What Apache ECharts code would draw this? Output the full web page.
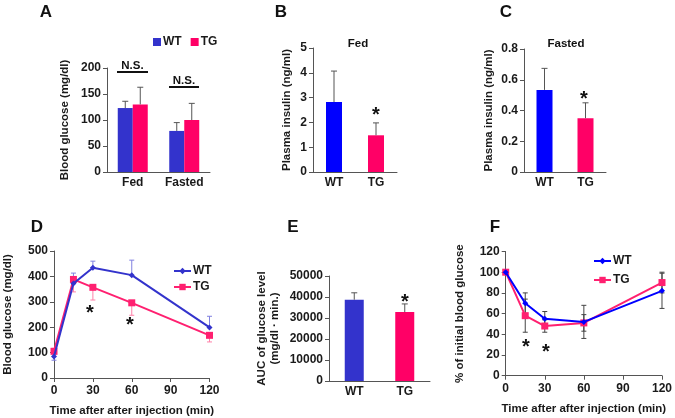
<!DOCTYPE html>
<html><head><meta charset="utf-8">
<script src="https://cdn.jsdelivr.net/npm/echarts@6/dist/echarts.min.js"></script>
<style>html,body{margin:0;padding:0;background:#fff}#c{width:675px;height:418px}</style>
</head><body><div id="c"></div>
<script>
// ---- data ----
const A_cats = ['Fed', 'Fasted'];
const A_wt = [123, 79];
const A_wtSd = [13, 16];
const A_tg = [130, 100];
const A_tgSd = [33, 32];
const A_yTicks = [0, 50, 100, 150, 200];

const B_cats = ['WT', 'TG'];
const B_vals = [2.82, 1.48];
const B_sd = [1.25, 0.5];

const C_cats = ['WT', 'TG'];
const C_vals = [0.534, 0.35];
const C_sd = [0.14, 0.10];

const D_time = [0, 15, 30, 60, 120];
const D_wt = [85, 372, 434, 405, 199];
const D_wtUp = [0, 41, 26, 59, 44];
const D_wtDown = [15, 0, 0, 0, 0];
const D_tg = [105, 388, 357, 296, 168];
const D_tgUp = [12, 0, 0, 0, 0];
const D_tgDown = [0, 49, 50, 49, 26];

const E_cats = ['WT', 'TG'];
const E_vals = [38700, 32800];
const E_sd = [3300, 3900];

const F_time = [0, 15, 30, 60, 120];
const F_wt = [100, 70, 55, 52, 82];
const F_wtSd = [0, 10, 7, 16, 17];
const F_tg = [100, 58, 48, 51, 90];
const F_tgSd = [0, 16, 6, 8, 10];

// ---- style ----
const BLUE_A = '#3333CC', BLUE_B = '#0000FF', PINK = '#FF0066', PINK_L = '#FF2070';
const FONT = 'Liberation Sans, Arial, sans-serif';
const lab = { fontFamily: FONT, fontWeight: 'bold', fontSize: 12, color: '#1a1a1a' };
const axisLine = { show: true, lineStyle: { color: '#555', width: 1 } };

function errRender(offset, capW, color, lw) {
  return function (params, api) {
    const x = api.value(0), y = api.value(1), lo = api.value(2), hi = api.value(3);
    const p1 = api.coord([x, lo]), p2 = api.coord([x, hi]);
    const cx = p1[0] + offset;
    const ch = [];
    if (hi > lo) ch.push({ type: 'line', shape: { x1: cx, y1: p1[1], x2: cx, y2: p2[1] }, style: { stroke: color, lineWidth: lw } });
    if (hi > y) ch.push({ type: 'line', shape: { x1: cx - capW / 2, y1: p2[1], x2: cx + capW / 2, y2: p2[1] }, style: { stroke: color, lineWidth: lw } });
    if (lo < y) ch.push({ type: 'line', shape: { x1: cx - capW / 2, y1: p1[1], x2: cx + capW / 2, y2: p1[1] }, style: { stroke: color, lineWidth: lw } });
    return { type: 'group', children: ch };
  };
}
function errCat(vals, sd) { return vals.map((v, i) => [i, v, v, v + sd[i]]); }
function errXY(xs, vals, up, down) { return xs.map((x, i) => [x, vals[i], vals[i] - down[i], vals[i] + up[i]]); }

function valY(gi, min, max, interval, name, gap, extra) {
  return Object.assign({
    type: 'value', gridIndex: gi, min: min, max: max, interval: interval,
    axisLine: axisLine, axisTick: { show: true, length: 4, lineStyle: { color: '#555' } },
    splitLine: { show: false }, axisLabel: Object.assign({ margin: 6, formatter: v => String(v) }, lab),
    name: name, nameLocation: 'middle', nameGap: gap, nameRotate: 90,
    nameTextStyle: { fontFamily: FONT, fontWeight: 'bold', fontSize: 11.5, color: '#1a1a1a', lineHeight: 13 }
  }, extra || {});
}
function catX(gi, cats) {
  return { type: 'category', gridIndex: gi, data: cats, axisLine: axisLine, axisTick: { show: false },
    axisLabel: Object.assign({ margin: 5 }, lab) };
}
function timeX(gi, name) {
  return { type: 'value', gridIndex: gi, min: 0, max: 120, interval: 30, axisLine: axisLine,
    axisTick: { show: true, length: 4, lineStyle: { color: '#555' } }, splitLine: { show: false },
    axisLabel: Object.assign({ margin: 7 }, lab),
    name: name, nameLocation: 'middle', nameGap: 27,
    nameTextStyle: { fontFamily: FONT, fontWeight: 'bold', fontSize: 11.5, color: '#1a1a1a' } };
}
function txt(x, y, s, size, extra) {
  return Object.assign({ type: 'text', x: x, y: y, style: { text: s, fontFamily: FONT, fontWeight: 'bold', fontSize: size, fill: '#111', align: 'center', verticalAlign: 'middle' } }, extra || {});
}
function star(x, y) { return txt(x, y + 5, '*', 20); }

const chart = echarts.init(document.getElementById('c'), null, { renderer: 'canvas' });
const stripName = n => n.split('_')[1];

chart.setOption({
  animation: false,
  backgroundColor: '#fff',
  grid: [
    { left: 107, top: 68, width: 103, height: 104 },
    { left: 313, top: 48, width: 84, height: 124 },
    { left: 524, top: 49, width: 82, height: 123 },
    { left: 50.5, top: 251, width: 159, height: 127 },
    { left: 329, top: 276, width: 101, height: 105 },
    { left: 505.7, top: 251.5, width: 157, height: 124.2 }
  ],
  xAxis: [catX(0, A_cats), catX(1, B_cats), catX(2, C_cats), timeX(3, 'Time after after injection (min)'), catX(4, E_cats), timeX(5, 'Time after after injection (min)')],
  yAxis: [
    valY(0, A_yTicks[0], A_yTicks[A_yTicks.length - 1], 50, 'Blood glucose (mg/dl)', 36),
    valY(1, 0, 5, 1, 'Plasma insulin (ng/ml)', 20),
    valY(2, 0, 0.8, 0.2, 'Plasma insulin (ng/ml)', 29),
    valY(3, 0, 500, 100, 'Blood glucose (mg/dl)', 40),
    valY(4, 0, 50000, 10000, 'AUC of glucose level\n(mg/dl · min.)', 48),
    valY(5, 0, 120, 20, '% of initial blood glucose', 39)
  ],
  legend: [
    { data: ['A_WT', 'A_TG'], formatter: stripName, left: 148, top: 31, icon: 'rect', itemWidth: 8, itemHeight: 8, itemGap: 9,
      textStyle: Object.assign({}, lab, { padding: [0, 0, 0, -3] }), selectedMode: false },
    { data: ['D_WT', 'D_TG'], formatter: stripName, orient: 'vertical', left: 168, top: 260, itemWidth: 17, itemHeight: 8, itemGap: 4,
      textStyle: Object.assign({}, lab, { padding: [0, 0, 0, -3] }), selectedMode: false },
    { data: ['F_WT', 'F_TG'], formatter: stripName, orient: 'vertical', left: 588, top: 250, itemWidth: 17, itemHeight: 8, itemGap: 7,
      textStyle: Object.assign({}, lab, { padding: [0, 0, 0, -3] }), selectedMode: false }
  ],
  series: [
    // A
    { name: 'A_WT', type: 'bar', xAxisIndex: 0, yAxisIndex: 0, data: A_wt, barWidth: 15, barGap: '0%', itemStyle: { color: BLUE_A }, z: 2 },
    { name: 'A_TG', type: 'bar', xAxisIndex: 0, yAxisIndex: 0, data: A_tg, barWidth: 15, barGap: '0%', itemStyle: { color: PINK }, z: 2 },
    { type: 'custom', xAxisIndex: 0, yAxisIndex: 0, data: errCat(A_wt, A_wtSd), renderItem: errRender(-7.5, 6, '#555', 1), z: 3 },
    { type: 'custom', xAxisIndex: 0, yAxisIndex: 0, data: errCat(A_tg, A_tgSd), renderItem: errRender(7.5, 6, '#555', 1), z: 3 },
    // B
    { name: 'B', type: 'bar', xAxisIndex: 1, yAxisIndex: 1, barWidth: 16,
      data: B_vals.map((v, i) => ({ value: v, itemStyle: { color: i === 0 ? BLUE_B : PINK } })), z: 2 },
    { type: 'custom', xAxisIndex: 1, yAxisIndex: 1, data: errCat(B_vals, B_sd), renderItem: errRender(0, 6, '#555', 1), z: 3 },
    // C
    { name: 'C', type: 'bar', xAxisIndex: 2, yAxisIndex: 2, barWidth: 16,
      data: C_vals.map((v, i) => ({ value: v, itemStyle: { color: i === 0 ? BLUE_B : PINK } })), z: 2 },
    { type: 'custom', xAxisIndex: 2, yAxisIndex: 2, data: errCat(C_vals, C_sd), renderItem: errRender(0, 6, '#555', 1), z: 3 },
    // D
    { type: 'custom', xAxisIndex: 3, yAxisIndex: 3, data: errXY(D_time, D_wt, D_wtUp, D_wtDown), renderItem: errRender(0, 5, '#8080E0', 1), z: 1 },
    { type: 'custom', xAxisIndex: 3, yAxisIndex: 3, data: errXY(D_time, D_tg, D_tgUp, D_tgDown), renderItem: errRender(0, 5, '#FF80A8', 1), z: 1 },
    { name: 'D_WT', type: 'line', xAxisIndex: 3, yAxisIndex: 3, data: D_time.map((t, i) => [t, D_wt[i]]),
      symbol: 'diamond', symbolSize: 6, lineStyle: { color: BLUE_A, width: 2 }, itemStyle: { color: BLUE_A }, z: 3 },
    { name: 'D_TG', type: 'line', xAxisIndex: 3, yAxisIndex: 3, data: D_time.map((t, i) => [t, D_tg[i]]),
      symbol: 'rect', symbolSize: 7, lineStyle: { color: PINK_L, width: 2 }, itemStyle: { color: PINK_L }, z: 2 },
    // E
    { name: 'E', type: 'bar', xAxisIndex: 4, yAxisIndex: 4, barWidth: 19,
      data: E_vals.map((v, i) => ({ value: v, itemStyle: { color: i === 0 ? BLUE_A : PINK } })), z: 2 },
    { type: 'custom', xAxisIndex: 4, yAxisIndex: 4, data: errCat(E_vals, E_sd), renderItem: errRender(0, 6, '#555', 1), z: 3 },
    // F
    { type: 'custom', xAxisIndex: 5, yAxisIndex: 5, data: errXY(F_time, F_wt, F_wtSd, F_wtSd), renderItem: errRender(0, 5, '#444', 1), z: 1 },
    { type: 'custom', xAxisIndex: 5, yAxisIndex: 5, data: errXY(F_time, F_tg, F_tgSd, F_tgSd), renderItem: errRender(0, 5, '#444', 1), z: 1 },
    { name: 'F_WT', type: 'line', xAxisIndex: 5, yAxisIndex: 5, data: F_time.map((t, i) => [t, F_wt[i]]),
      symbol: 'diamond', symbolSize: 6, lineStyle: { color: BLUE_B, width: 2 }, itemStyle: { color: BLUE_B }, z: 3 },
    { name: 'F_TG', type: 'line', xAxisIndex: 5, yAxisIndex: 5, data: F_time.map((t, i) => [t, F_tg[i]]),
      symbol: 'rect', symbolSize: 7, lineStyle: { color: PINK_L, width: 2 }, itemStyle: { color: PINK_L }, z: 2 }
  ],
  graphic: [
    txt(46, 12, 'A', 17), txt(281, 12, 'B', 17), txt(506, 12, 'C', 17),
    txt(37, 227, 'D', 17), txt(293, 227, 'E', 17), txt(495, 227, 'F', 17),
    txt(358, 44, 'Fed', 11.5), txt(566, 44, 'Fasted', 11.5),
    txt(132.5, 66, 'N.S.', 11.5), txt(184, 81, 'N.S.', 11.5),
    { type: 'line', shape: { x1: 117, y1: 72, x2: 148, y2: 72 }, style: { stroke: '#111', lineWidth: 2 } },
    { type: 'line', shape: { x1: 169, y1: 87, x2: 199, y2: 87 }, style: { stroke: '#111', lineWidth: 2 } },
    star(376, 110), star(584, 94), star(405, 297),
    star(90, 308), star(130, 320), star(526, 342), star(546, 347)
  ]
});
</script></body></html>
